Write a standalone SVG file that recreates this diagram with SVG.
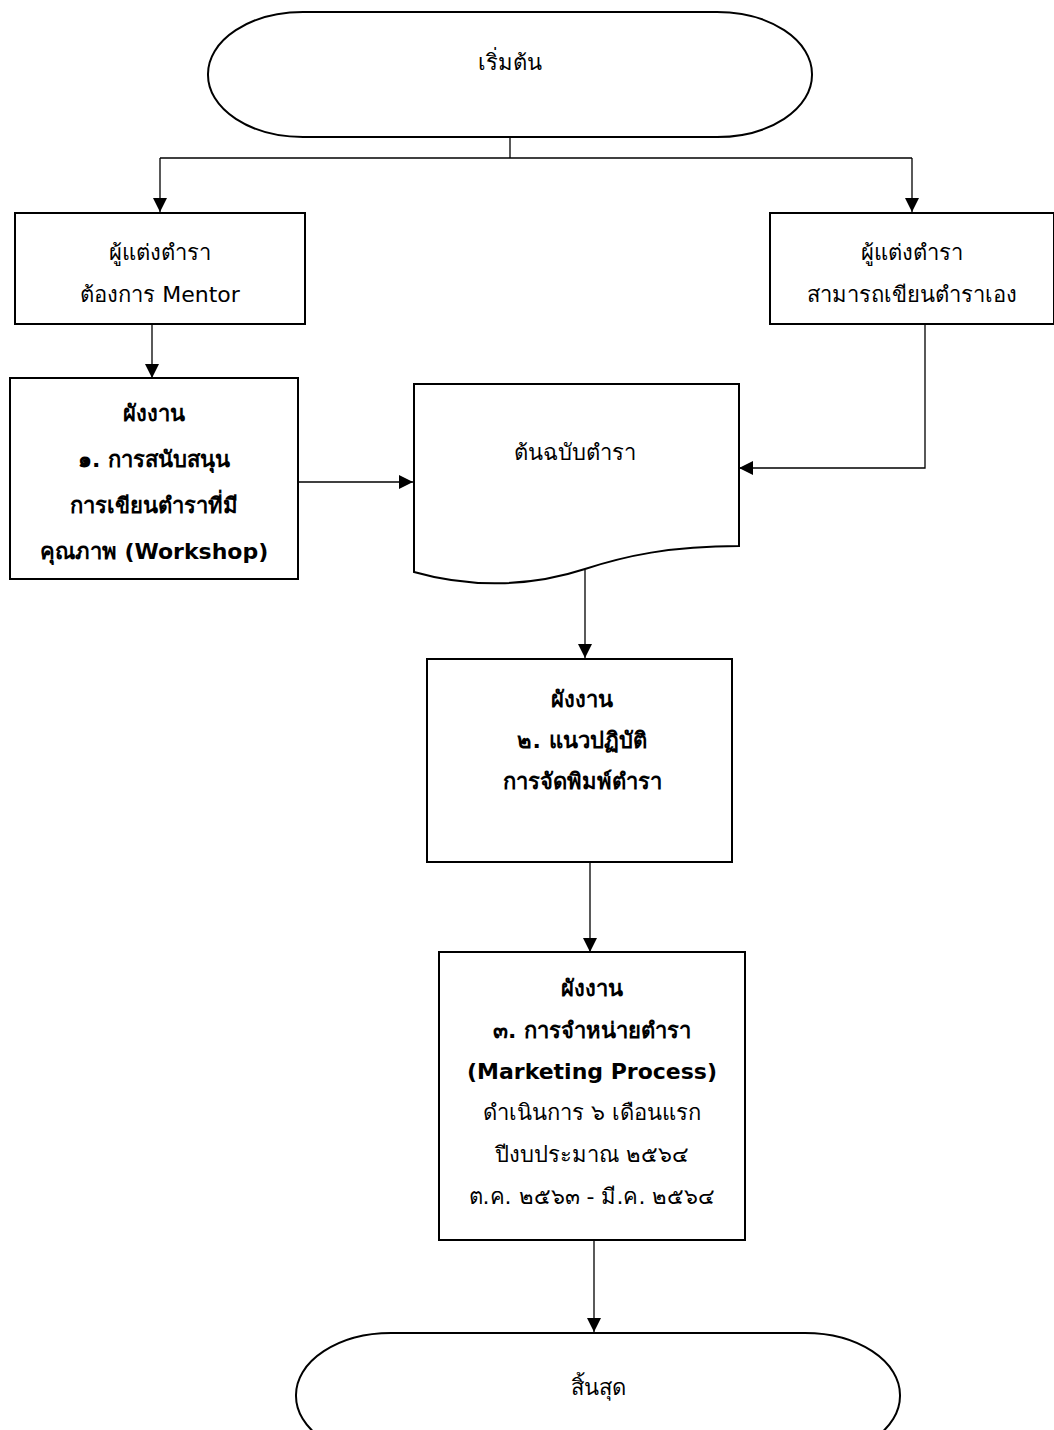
<svg xmlns="http://www.w3.org/2000/svg" width="1054" height="1430" viewBox="0 0 1054 1430">
<style>
.shape{fill:#fff;stroke:#000;stroke-width:2}
.conn{fill:none;stroke:#000;stroke-width:1.3}
text{font-family:"Tahoma","DejaVu Sans","Noto Sans",sans-serif;font-size:22px;fill:#000;text-anchor:middle;dominant-baseline:central}
.b{font-weight:bold}
</style>
<defs>
<marker id="ah" markerUnits="userSpaceOnUse" markerWidth="14" markerHeight="14" viewBox="0 0 14 14" refX="14" refY="7" orient="auto">
<path d="M0,0 L14,7 L0,14 Z" fill="#000"/>
</marker>
</defs>
<rect width="1054" height="1430" fill="#fff"/>
<g id="connectors">
<path class="conn" d="M510,137 V158"/>
<path class="conn" d="M160,158 H912"/>
<path class="conn" d="M160,158 V212" marker-end="url(#ah)"/>
<path class="conn" d="M912,158 V212" marker-end="url(#ah)"/>
<path class="conn" d="M152,324 V378" marker-end="url(#ah)"/>
<path class="conn" d="M298,482 H413" marker-end="url(#ah)"/>
<path class="conn" d="M925,324 V468 H739" marker-end="url(#ah)"/>
<path class="conn" d="M585,570 V658" marker-end="url(#ah)"/>
<path class="conn" d="M590,862 V952" marker-end="url(#ah)"/>
<path class="conn" d="M594,1240 V1332" marker-end="url(#ah)"/>
</g>
<g id="start">
<rect class="shape" x="208" y="12" width="604" height="125" rx="95" ry="62"/>
<text x="510" y="62">เริ่มต้น</text>
</g>
<g id="mentor">
<rect class="shape" x="15" y="213" width="290" height="111"/>
<text x="160" y="252">ผู้แต่งตำรา</text>
<text x="160" y="294">ต้องการ Mentor</text>
</g>
<g id="self">
<rect class="shape" x="770" y="213" width="284" height="111"/>
<text x="912" y="252">ผู้แต่งตำรา</text>
<text x="912" y="294">สามารถเขียนตำราเอง</text>
</g>
<g id="flow1">
<rect class="shape" x="10" y="378" width="288" height="201"/>
<text class="b" x="154" y="413">ผังงาน</text>
<text class="b" x="154" y="459">๑. การสนับสนุน</text>
<text class="b" x="154" y="505">การเขียนตำราที่มี</text>
<text class="b" x="154" y="551">คุณภาพ (Workshop)</text>
</g>
<g id="manuscript">
<path class="shape" d="M414,384 H739 V546 C670,546 625,556 585,569 C530,587 470,588 414,572 Z"/>
<text x="575" y="452">ต้นฉบับตำรา</text>
</g>
<g id="flow2">
<rect class="shape" x="427" y="659" width="305" height="203"/>
<text class="b" x="582" y="699">ผังงาน</text>
<text class="b" x="582" y="740">๒. แนวปฏิบัติ</text>
<text class="b" x="582" y="781">การจัดพิมพ์ตำรา</text>
</g>
<g id="flow3">
<rect class="shape" x="439" y="952" width="306" height="288"/>
<text class="b" x="592" y="988">ผังงาน</text>
<text class="b" x="592" y="1030">๓. การจำหน่ายตำรา</text>
<text class="b" x="592" y="1071">(Marketing Process)</text>
<text x="592" y="1112">ดำเนินการ ๖ เดือนแรก</text>
<text x="592" y="1154">ปีงบประมาณ ๒๕๖๔</text>
<text x="592" y="1196">ต.ค. ๒๕๖๓ - มี.ค. ๒๕๖๔</text>
</g>
<g id="end">
<rect class="shape" x="296" y="1333" width="604" height="125" rx="95" ry="62"/>
<text x="598" y="1387">สิ้นสุด</text>
</g>
</svg>
